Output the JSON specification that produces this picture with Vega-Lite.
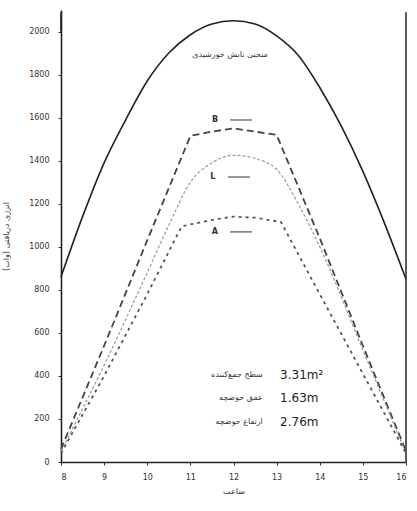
{
  "$schema": "https://vega.github.io/schema/vega-lite/v6.json",
  "width": 345,
  "height": 452,
  "autosize": {"type": "none"},
  "padding": {"left": 61, "top": 10, "right": 11, "bottom": 49},
  "background": "white",
  "config": {
    "view": {"stroke": null},
    "font": "DejaVu Sans",
    "axis": {
      "domainColor": "#222",
      "domainWidth": 1.6,
      "tickColor": "#333",
      "tickSize": 3,
      "labelColor": "#333",
      "labelFontSize": 8,
      "titleColor": "#333",
      "titleFontSize": 8,
      "titleFontWeight": "normal",
      "grid": false
    }
  },
  "datasets": {
    "curves": [
      {"t": 8, "v": 860, "s": "S"}, {"t": 8.5, "v": 1140, "s": "S"}, {"t": 9, "v": 1390, "s": "S"},
      {"t": 9.5, "v": 1590, "s": "S"}, {"t": 10, "v": 1770, "s": "S"}, {"t": 10.5, "v": 1900, "s": "S"},
      {"t": 11, "v": 1985, "s": "S"}, {"t": 11.5, "v": 2035, "s": "S"}, {"t": 12, "v": 2050, "s": "S"},
      {"t": 12.5, "v": 2035, "s": "S"}, {"t": 13, "v": 1980, "s": "S"}, {"t": 13.5, "v": 1890, "s": "S"},
      {"t": 14, "v": 1740, "s": "S"}, {"t": 14.5, "v": 1560, "s": "S"}, {"t": 15, "v": 1350, "s": "S"},
      {"t": 15.5, "v": 1110, "s": "S"}, {"t": 16, "v": 850, "s": "S"},
      {"t": 8, "v": 60, "s": "B"}, {"t": 9, "v": 540, "s": "B"}, {"t": 10, "v": 1030, "s": "B"},
      {"t": 11, "v": 1515, "s": "B"}, {"t": 11.5, "v": 1535, "s": "B"}, {"t": 12, "v": 1550, "s": "B"},
      {"t": 12.5, "v": 1535, "s": "B"}, {"t": 13, "v": 1520, "s": "B"}, {"t": 14, "v": 1040, "s": "B"},
      {"t": 15, "v": 540, "s": "B"}, {"t": 16, "v": 50, "s": "B"},
      {"t": 8, "v": 50, "s": "L"}, {"t": 9, "v": 450, "s": "L"}, {"t": 10, "v": 880, "s": "L"},
      {"t": 10.5, "v": 1100, "s": "L"}, {"t": 11, "v": 1300, "s": "L"}, {"t": 11.5, "v": 1390, "s": "L"},
      {"t": 12, "v": 1425, "s": "L"}, {"t": 12.5, "v": 1410, "s": "L"}, {"t": 13, "v": 1360, "s": "L"},
      {"t": 13.5, "v": 1200, "s": "L"}, {"t": 14, "v": 1000, "s": "L"}, {"t": 15, "v": 520, "s": "L"},
      {"t": 16, "v": 40, "s": "L"},
      {"t": 8, "v": 40, "s": "A"}, {"t": 9, "v": 400, "s": "A"}, {"t": 10, "v": 780, "s": "A"},
      {"t": 10.8, "v": 1095, "s": "A"}, {"t": 11.5, "v": 1125, "s": "A"}, {"t": 12, "v": 1140, "s": "A"},
      {"t": 12.5, "v": 1135, "s": "A"}, {"t": 13.1, "v": 1115, "s": "A"}, {"t": 14, "v": 780, "s": "A"},
      {"t": 15, "v": 410, "s": "A"}, {"t": 16, "v": 40, "s": "A"}
    ],
    "seriesLabels": [
      {"t": 11.57, "t2": 11.92, "t3": 12.43, "v": 1589, "label": "B"},
      {"t": 11.52, "t2": 11.87, "t3": 12.38, "v": 1324, "label": "L"},
      {"t": 11.57, "t2": 11.92, "t3": 12.43, "v": 1069, "label": "A"}
    ],
    "notes": [
      {"t": 12.68, "t2": 13.08, "v": 404, "label": "سطح جمع‌کننده", "val": "3.31m²"},
      {"t": 12.68, "t2": 13.08, "v": 297, "label": "عمق حوضچه", "val": "1.63m"},
      {"t": 12.68, "t2": 13.08, "v": 186, "label": "ارتفاع حوضچه", "val": "2.76m"}
    ]
  },
  "layer": [
    {
      "data": {"name": "curves"},
      "transform": [{"filter": "datum.s === 'S'"}],
      "mark": {"type": "line", "interpolate": "monotone", "color": "#222", "strokeWidth": 1.6},
      "encoding": {
        "x": {
          "field": "t", "type": "quantitative",
          "scale": {"domain": [8, 16], "nice": false, "zero": false},
          "axis": {"values": [8, 9, 10, 11, 12, 13, 14, 15, 16], "format": "d", "title": "ساعت", "labelPadding": 8, "titlePadding": 6}
        },
        "y": {
          "field": "v", "type": "quantitative",
          "scale": {"domain": [0, 2100], "nice": false},
          "axis": {"values": [0, 200, 400, 600, 800, 1000, 1200, 1400, 1600, 1800, 2000], "format": "d", "title": "انرژی دریافتی (وات)", "labelPadding": 9, "titlePadding": 18}
        }
      }
    },
    {
      "data": {"name": "curves"},
      "transform": [{"filter": "datum.s === 'B'"}],
      "mark": {"type": "line", "color": "#444", "strokeWidth": 1.8, "strokeDash": [7, 4]},
      "encoding": {"x": {"field": "t", "type": "quantitative"}, "y": {"field": "v", "type": "quantitative"}}
    },
    {
      "data": {"name": "curves"},
      "transform": [{"filter": "datum.s === 'L'"}],
      "mark": {"type": "line", "interpolate": "monotone", "color": "#999", "strokeWidth": 1.2, "strokeDash": [3, 2]},
      "encoding": {"x": {"field": "t", "type": "quantitative"}, "y": {"field": "v", "type": "quantitative"}}
    },
    {
      "data": {"name": "curves"},
      "transform": [{"filter": "datum.s === 'A'"}],
      "mark": {"type": "line", "color": "#555", "strokeWidth": 1.8, "strokeDash": [3, 4]},
      "encoding": {"x": {"field": "t", "type": "quantitative"}, "y": {"field": "v", "type": "quantitative"}}
    },
    {
      "data": {"values": [{"t": 16, "v0": 0, "v1": 2090}]},
      "mark": {"type": "rule", "color": "#333", "strokeWidth": 1.6},
      "encoding": {"x": {"field": "t", "type": "quantitative"}, "y": {"field": "v0", "type": "quantitative"}, "y2": {"field": "v1"}}
    },
    {
      "data": {"values": [{"t": 8, "v0": 2000, "v1": 2090}]},
      "mark": {"type": "rule", "color": "#222", "strokeWidth": 1.6},
      "encoding": {"x": {"field": "t", "type": "quantitative"}, "y": {"field": "v0", "type": "quantitative"}, "y2": {"field": "v1"}}
    },
    {
      "data": {"name": "seriesLabels"},
      "mark": {"type": "text", "fontSize": 8, "fontWeight": "bold", "color": "#333", "align": "center", "baseline": "middle"},
      "encoding": {"x": {"field": "t", "type": "quantitative"}, "y": {"field": "v", "type": "quantitative"}, "text": {"field": "label"}}
    },
    {
      "data": {"name": "seriesLabels"},
      "mark": {"type": "rule", "color": "#555", "strokeWidth": 1.2},
      "encoding": {"x": {"field": "t2", "type": "quantitative"}, "x2": {"field": "t3"}, "y": {"field": "v", "type": "quantitative"}}
    },
    {
      "data": {"values": [{"t": 11.92, "v": 1891, "label": "منحنی تابش خورشیدی"}]},
      "mark": {"type": "text", "fontSize": 8, "color": "#333", "align": "center", "baseline": "middle"},
      "encoding": {"x": {"field": "t", "type": "quantitative"}, "y": {"field": "v", "type": "quantitative"}, "text": {"field": "label"}}
    },
    {
      "data": {"name": "notes"},
      "mark": {"type": "text", "fontSize": 8, "color": "#333", "align": "right", "baseline": "middle"},
      "encoding": {"x": {"field": "t", "type": "quantitative"}, "y": {"field": "v", "type": "quantitative"}, "text": {"field": "label"}}
    },
    {
      "data": {"name": "notes"},
      "mark": {"type": "text", "fontSize": 12, "color": "#222", "align": "left", "baseline": "middle"},
      "encoding": {"x": {"field": "t2", "type": "quantitative"}, "y": {"field": "v", "type": "quantitative"}, "text": {"field": "val"}}
    }
  ]
}
